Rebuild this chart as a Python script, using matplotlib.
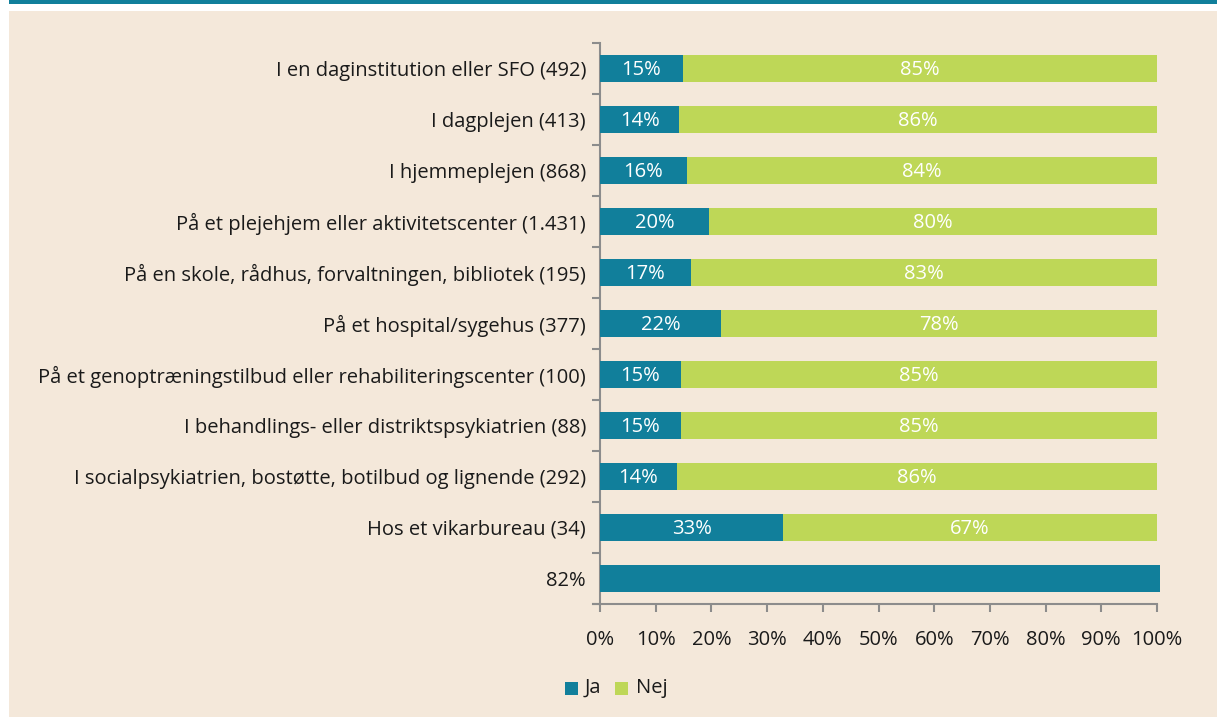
import matplotlib
matplotlib.use("Agg")
import matplotlib.pyplot as plt
from matplotlib.patches import Rectangle

categories = [
    "I en daginstitution eller SFO (492)",
    "I dagplejen (413)",
    "I hjemmeplejen (868)",
    "På et plejehjem eller aktivitetscenter (1.431)",
    "På en skole, rådhus, forvaltningen, bibliotek (195)",
    "På et hospital/sygehus (377)",
    "På et genoptræningstilbud eller rehabiliteringscenter (100)",
    "I behandlings- eller distriktspsykiatrien (88)",
    "I socialpsykiatrien, bostøtte, botilbud og lignende (292)",
    "Hos et vikarbureau (34)",
    "82%",
]
ja = [14.9, 14.2, 15.6, 19.6, 16.3, 21.7, 14.5, 14.5, 13.8, 32.9, 100.5]
ja_labels = ["15%", "14%", "16%", "20%", "17%", "22%", "15%", "15%", "14%", "33%", ""]
nej = [85.1, 85.8, 84.4, 80.4, 83.7, 78.3, 85.5, 85.5, 86.2, 67.1, 0]
nej_labels = ["85%", "86%", "84%", "80%", "83%", "78%", "85%", "85%", "86%", "67%", ""]
xticks = [0, 10, 20, 30, 40, 50, 60, 70, 80, 90, 100]

TEAL = "#117F9B"
GREEN = "#BED757"
BEIGE = "#F4E8DA"
AXC = "#8C8C8C"
TXT = "#1a1a1a"
FONT = ["Open Sans", "DejaVu Sans"]
FS = 14.5

plt.rcParams["font.family"] = FONT

W, H = 1217, 717
fig = plt.figure(figsize=(W / 100, H / 100), dpi=100)
fig.patch.set_facecolor("white")
fig.patches.append(Rectangle((9 / W, 0), 1 - 9 / W, 1 - 11 / H, transform=fig.transFigure,
                             facecolor=BEIGE, edgecolor="none", zorder=-2))
fig.patches.append(Rectangle((9 / W, 1 - 3.5 / H), 1 - 9 / W, 3.5 / H, transform=fig.transFigure,
                             facecolor=TEAL, edgecolor="none", zorder=-2))

ax = fig.add_axes([600 / W, 1 - 604 / H, 557 / W, 561 / H])
ax.set_facecolor("none")

n = len(categories)
ys = list(range(n))
bh = 0.51
ax.barh(ys, ja, height=bh, color=TEAL, edgecolor="none", zorder=3, clip_on=False)
ax.barh(ys, nej, left=ja, height=bh, color=GREEN, edgecolor="none", zorder=3)

for y, v, lab in zip(ys, ja, ja_labels):
    if lab:
        ax.text(v / 2, y + 0.03, lab, ha="center", va="center", color="white", fontsize=FS, zorder=4)
for y, s, v, lab in zip(ys, ja, nej, nej_labels):
    if lab:
        ax.text(s + v / 2, y + 0.03, lab, ha="center", va="center", color="white", fontsize=FS, zorder=4)

ax.set_xlim(0, 100)
ax.set_ylim(n - 0.5, -0.5)
ax.set_yticks(ys)
ax.set_yticklabels(categories, fontsize=FS, color=TXT)
ax.set_yticks([i - 0.5 for i in range(n + 1)], minor=True)
ax.tick_params(axis="y", which="major", length=0, pad=10)
ax.tick_params(axis="y", which="minor", length=6, width=1.5, color=AXC, direction="out")
ax.set_xticks(xticks)
ax.set_xticklabels([f"{t}%" for t in xticks], fontsize=FS, color=TXT)
ax.tick_params(axis="x", length=6, width=1.5, color=AXC, direction="out", pad=13)

for s in ["top", "right"]:
    ax.spines[s].set_visible(False)
ax.spines["left"].set_color(AXC)
ax.spines["left"].set_linewidth(1.5)
ax.spines["bottom"].set_color(AXC)
ax.spines["bottom"].set_linewidth(1.5)
ax.spines["bottom"].set_bounds(-1.2, 100)

# legend
lx = 565 / W
ly = 1 - 688 / H
fig.patches.append(Rectangle((lx, ly - 6.5 / H), 13 / W, 13 / H, transform=fig.transFigure,
                             facecolor=TEAL, edgecolor="none"))
fig.text(lx + 20 / W, ly, "Ja", fontsize=FS, va="center", ha="left", color=TXT)
fig.patches.append(Rectangle((lx + 50 / W, ly - 6.5 / H), 13 / W, 13 / H, transform=fig.transFigure,
                             facecolor=GREEN, edgecolor="none"))
fig.text(lx + 71 / W, ly, "Nej", fontsize=FS, va="center", ha="left", color=TXT)

fig.savefig("out.png", dpi=100, facecolor=fig.get_facecolor())
